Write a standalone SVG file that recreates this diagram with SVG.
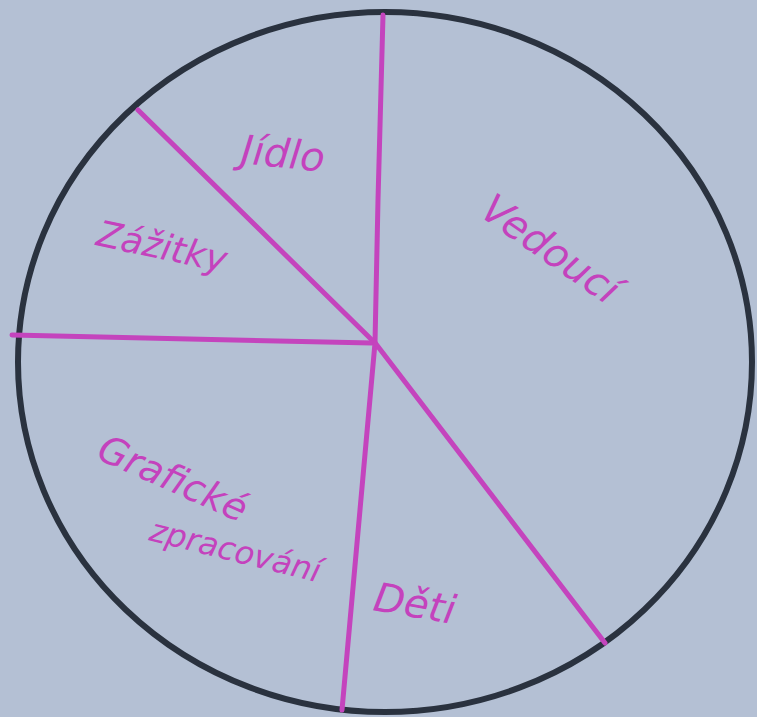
<svg xmlns="http://www.w3.org/2000/svg" width="757" height="717" viewBox="0 0 757 717">
<style>
.lbl{font-family:"DejaVu Sans","Liberation Sans",sans-serif;fill:#c442bd;font-style:italic;}
.div{stroke:#c444bd;stroke-width:5;stroke-linecap:round;fill:none;}
</style>
<rect width="757" height="717" fill="#b4c0d4"/>
<ellipse id="pie" cx="385" cy="362" rx="367" ry="350" fill="none" stroke="#2a323f" stroke-width="6"/>
<g id="connectors">
<path class="div" d="M383,15 L378,200 L375,343"/>
<path class="div" d="M138,110 L375,343"/>
<path class="div" d="M12,335 L372,343"/>
<path class="div" d="M375,343 L342,710"/>
<path class="div" d="M376,344 L605,643"/>
</g>
<g id="jidlo"><text class="lbl" font-size="40" transform="translate(240,163) rotate(6)">Jídlo</text></g>
<g id="vedouci"><text class="lbl" font-size="40" transform="translate(478,215) rotate(35)">Vedoucí</text></g>
<g id="zazitky"><text class="lbl" font-size="36" transform="translate(95,245) rotate(12)">Zážitky</text></g>
<g id="graficke"><text class="lbl" font-size="38" transform="translate(95,458) rotate(24)">Grafické</text>
<text class="lbl" font-size="32" transform="translate(148,540) rotate(14)">zpracování</text></g>
<g id="deti"><text class="lbl" font-size="40" transform="translate(372,610) rotate(10)">Děti</text></g>
</svg>
